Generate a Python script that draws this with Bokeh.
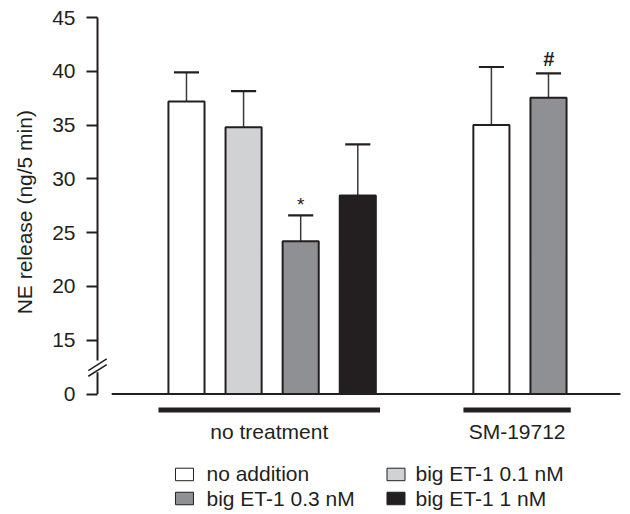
import math
from bokeh.plotting import figure
from bokeh.models import LinearAxis, FixedTicker, Range1d, ColumnDataSource
from bokeh.core.properties import value
from bokeh.embed import file_html
from bokeh.resources import INLINE

# ---------------- data ----------------
groups = ["no treatment", "SM-19712"]
treatments = ["no addition", "big ET-1 0.1 nM", "big ET-1 0.3 nM", "big ET-1 1 nM"]
bar_group = [0, 0, 0, 0, 1, 1]
bar_treatment = [0, 1, 2, 3, 0, 2]
means = [37.2, 34.8, 24.2, 28.45, 35.0, 37.55]
sems = [2.7, 3.35, 2.4, 4.75, 5.4, 2.25]
marks = ["", "", "*", "", "", "#"]
y_ticks = [0, 15, 20, 25, 30, 35, 40, 45]
y_label = "NE release (ng/5 min)"
treatment_colors = ["#ffffff", "#d1d2d4", "#8f9094", "#231f20"]

# ---------------- layout ----------------
INK = "#231f20"
FONT = "Liberation Sans"
FS = "21px"
BASE = 10.0            # display position of the broken-axis zero
GROUP_OFFSET = [0.0, 5.34]
BAR_W = 0.632


def disp(v):
    return BASE if v == 0 else v


slot = []
counts = {}
for g in bar_group:
    slot.append(counts.get(g, 0))
    counts[g] = counts.get(g, 0) + 1
xs = [GROUP_OFFSET[g] + s for g, s in zip(bar_group, slot)]
tops = [m + e for m, e in zip(means, sems)]
colors = [treatment_colors[t] for t in bar_treatment]

x0, x1 = -3.257, 7.776
y0, y1 = -1.202, 46.581
axis_x = xs[0] - 1.558

p = figure(width=630, height=514, x_range=Range1d(x0, x1), y_range=Range1d(y0, y1),
           output_backend="svg", toolbar_location=None,
           x_axis_location=None, y_axis_location=None, min_border=0)
p.outline_line_color = None
p.background_fill_color = "white"
p.border_fill_color = "white"
for g in p.xgrid + p.ygrid:
    g.visible = False

# y axis (ticks and labels from bokeh)
tick_vals = [disp(t) for t in y_ticks]
yaxis = LinearAxis(ticker=FixedTicker(ticks=tick_vals), fixed_location=axis_x,
                   axis_line_color=None, major_tick_out=11, major_tick_in=0,
                   minor_tick_out=0, minor_tick_in=0,
                   major_tick_line_width=2, major_tick_line_color=INK,
                   major_label_text_font=FONT, major_label_text_font_size=FS,
                   major_label_text_color=INK, major_label_standoff=11,
                   major_label_overrides={disp(t): str(t) for t in y_ticks})
p.add_layout(yaxis, "left")

# axis line with break
p.segment(x0=[axis_x, axis_x], y0=[max(y_ticks), 12.03], x1=[axis_x, axis_x], y1=[13.11, BASE],
          line_color=INK, line_width=2)
p.segment(x0=[axis_x - 0.161, axis_x - 0.161], y0=[12.18, 11.65],
          x1=[axis_x + 0.161, axis_x + 0.161], y1=[13.27, 12.74],
          line_color=INK, line_width=1.5)

# axis title
p.text(x=[axis_x - 1.27], y=[26.9], text=[y_label], angle=math.pi / 2,
       text_font=value(FONT), text_font_size=FS, text_color=INK,
       text_align="center", text_baseline="middle")

# baseline
p.segment(x0=[xs[0] - 1.31], y0=[BASE], x1=[xs[-1] + 1.26], y1=[BASE],
          line_color=INK, line_width=2)

# error bars
p.segment(x0=xs, y0=means, x1=xs, y1=tops, line_color="#3a3a3a", line_width=1.5)
p.segment(x0=[x - 0.22 for x in xs], y0=tops, x1=[x + 0.22 for x in xs], y1=tops,
          line_color=INK, line_width=2.2)

# bars
src = ColumnDataSource(dict(x=xs, top=means, color=colors))
p.vbar(x="x", top="top", bottom=BASE, width=BAR_W, fill_color="color",
       line_color=INK, line_width=2, source=src)

# significance marks
mark_off = {"*": 1.05, "#": 1.34}
for x, t, m in zip(xs, tops, marks):
    if m:
        p.text(x=[x], y=[t + mark_off[m]], text=[m], text_font=value(FONT),
               text_font_size="19px" if m == "*" else "20px",
               text_font_style="normal" if m == "*" else "bold italic",
               text_color=INK, text_align="center", text_baseline="alphabetic")

# group bars and labels
for gi, name in enumerate(groups):
    gx = [x for x, g in zip(xs, bar_group) if g == gi]
    a, b = min(gx) - 0.49, max(gx) + 0.39
    p.segment(x0=[a], y0=[8.51], x1=[b], y1=[8.51], line_color=INK, line_width=5,
              line_cap="butt")
    p.text(x=[(a + b) / 2], y=[6.5], text=[name], text_font=value(FONT),
           text_font_size=FS, text_color=INK, text_align="center",
           text_baseline="alphabetic")

# legend (2 x 2)
col_box = [-0.035, 3.669]
col_txt = [0.35, 4.011]
row_box = [2.52, 0.286]
row_txt = [2.61, 0.25]
for i, name in enumerate(treatments):
    r, c = divmod(i, 2)
    p.rect(x=[col_box[c]], y=[row_box[r]], width=18, height=12.5,
           width_units="screen", height_units="screen",
           fill_color=treatment_colors[i], line_color=INK, line_width=1)
    p.text(x=[col_txt[c]], y=[row_txt[r]], text=[name], text_font=value(FONT),
           text_font_size=FS, text_color=INK, text_align="left",
           text_baseline="alphabetic")

open("out.html", "w").write(file_html(p, INLINE))
